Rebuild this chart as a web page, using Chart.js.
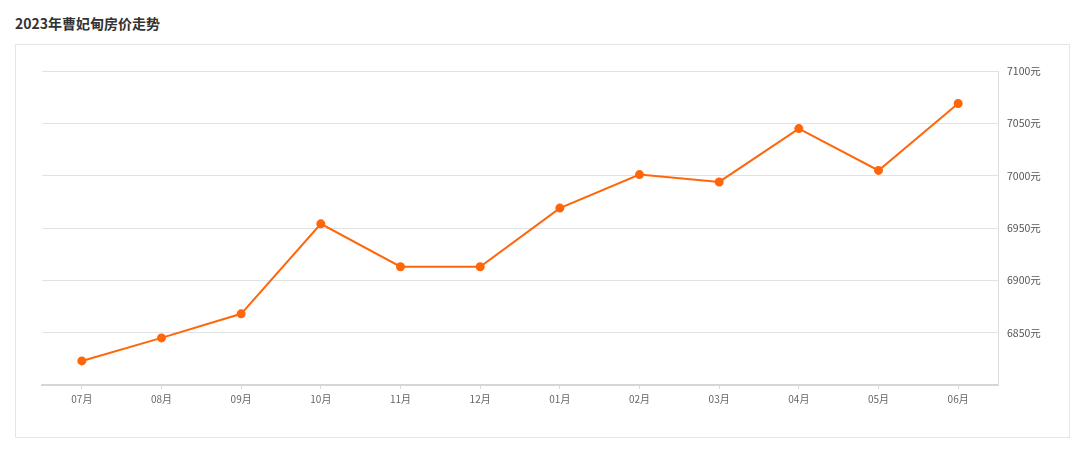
<!DOCTYPE html>
<html>
<head>
<meta charset="utf-8">
<script src="https://cdn.jsdelivr.net/npm/chart.js@4"></script>
<style>
  body { margin: 0; background: #fff; font-family: "Noto Sans CJK SC", sans-serif; }
  h3 { position: absolute; left: 15px; top: 13px; margin: 0; font-size: 14px; font-weight: bold; color: #333; }
  .box { position: absolute; left: 15px; top: 44px; width: 1053px; height: 392px; border: 1px solid #e6e6e6; }
</style>
</head>
<body>
<h3>2023年曹妃甸房价走势</h3>
<div class="box"><canvas id="priceChart" width="1053" height="392"></canvas></div>
<script>
// 月份和房价（元/平方米）
const months = ["07月", "08月", "09月", "10月", "11月", "12月", "01月", "02月", "03月", "04月", "05月", "06月"]
const prices = [6823, 6845, 6868, 6954, 6913, 6913, 6969, 7001, 6994, 7045, 7005, 7069]
const yTicks = [6800, 6850, 6900, 6950, 7000, 7050, 7100]

const ctx = document.getElementById("priceChart").getContext("2d")
new Chart(ctx, {
  type: "line",
  data: {
    labels: months,
    datasets: [
      {
        data: prices,
        borderColor: "#ff660a",
        backgroundColor: "#ff660a",
        borderWidth: 2,
        pointRadius: 3.5,
        pointHoverRadius: 4,
        tension: 0,
        fill: false,
      },
    ],
  },
  options: {
    responsive: false,
    animation: false,
    layout: { padding: { left: 26, top: 26, right: 0, bottom: 0 } },
    plugins: { legend: { display: false }, tooltip: { enabled: false } },
    scales: {
      x: {
        offset: true,
        grid: { offset: false, drawOnChartArea: false, tickLength: 4, color: "#d9d9d9" },
        border: { color: "#d6d6d6", width: 2 },
        ticks: { color: "#666", font: { size: 10, family: "Noto Sans CJK SC" }, padding: 4 },
        afterFit: (scale) => { scale.height = 52 },
      },
      y: {
        position: "right",
        min: 6800,
        max: 7100,
        afterBuildTicks: (scale) => { scale.ticks = yTicks.map((v) => ({ value: v })) },
        grid: { color: "#e2e2e2", drawTicks: false },
        border: { color: "#dcdcdc" },
        ticks: {
          color: "#555",
          padding: 9,
          font: { size: 10.5, family: "Noto Sans CJK SC" },
          callback: (v) => (v === 6800 ? "" : v + "元"),
        },
        afterFit: (scale) => { scale.width = 71 },
      },
    },
  },
})
</script>
</body>
</html>
